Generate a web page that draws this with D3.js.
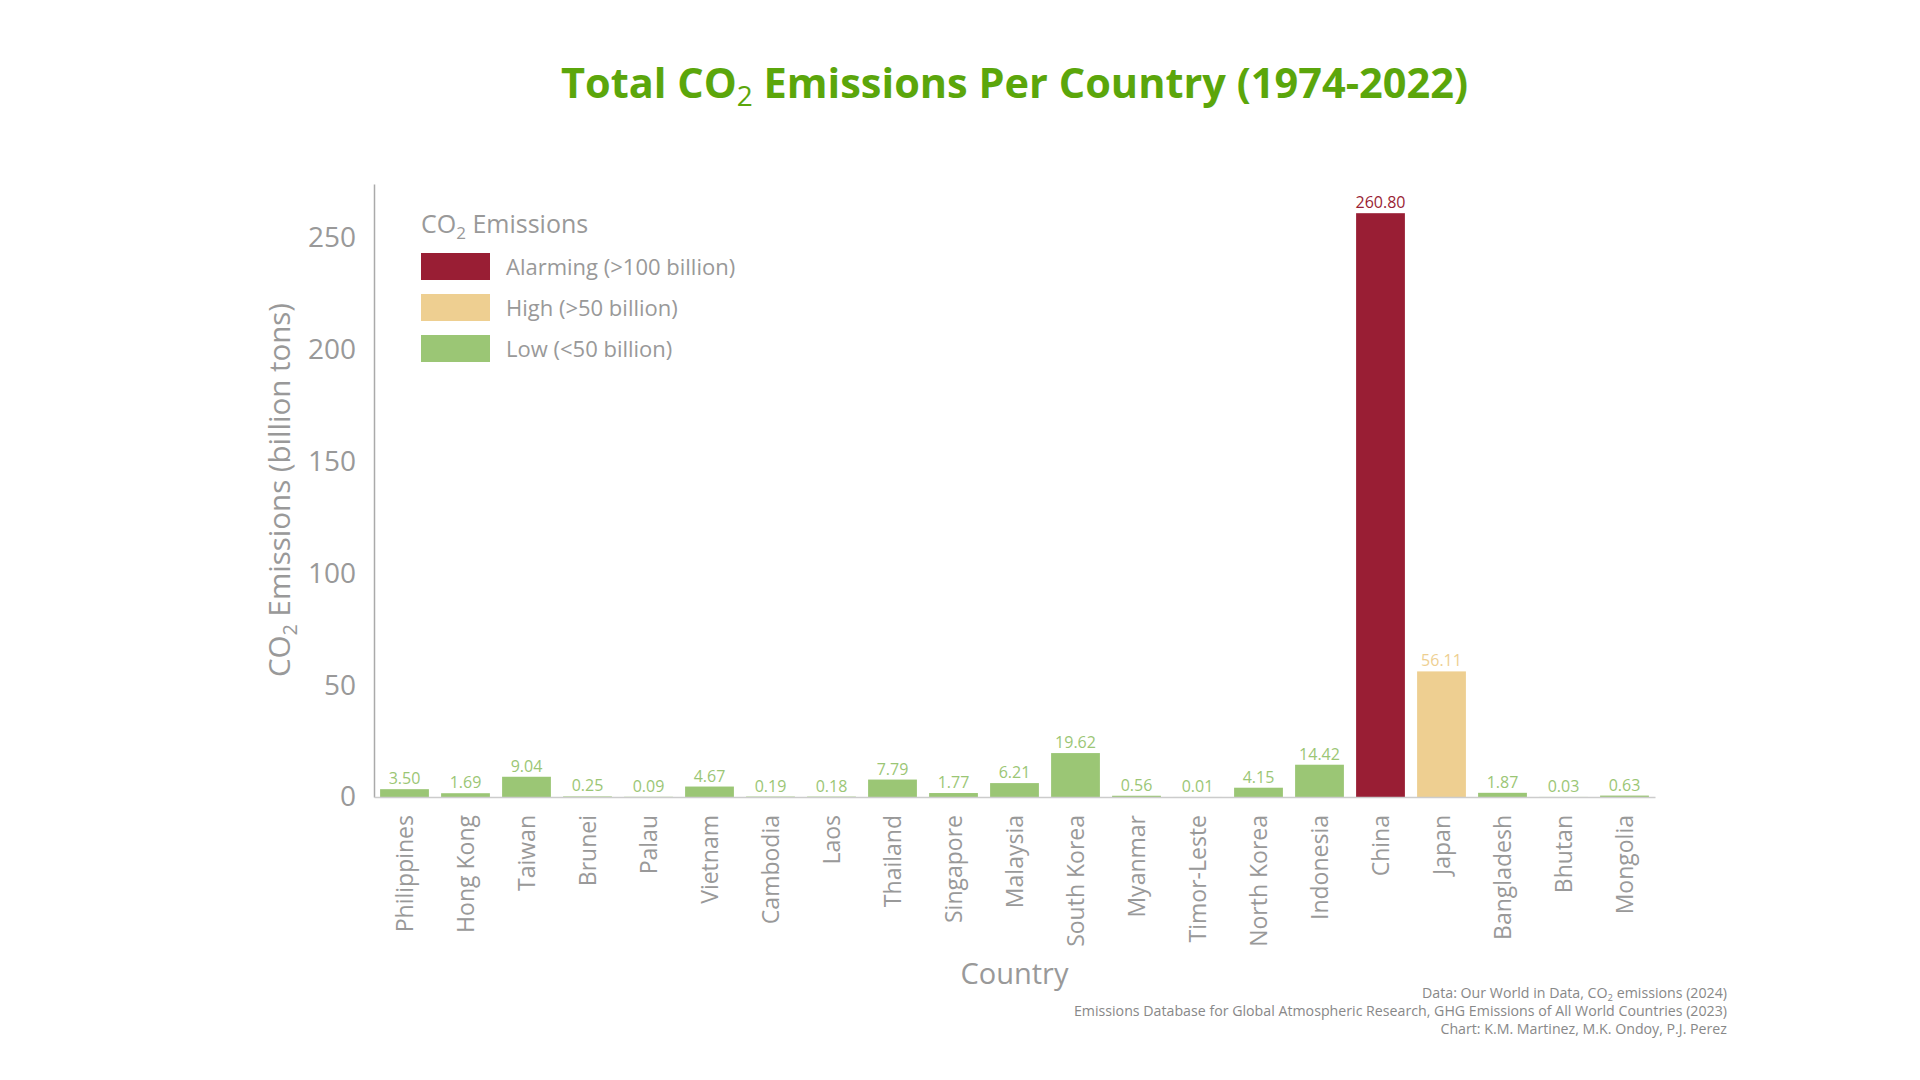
<!DOCTYPE html>
<html>
<head>
<meta charset="utf-8">
<script src="https://cdn.jsdelivr.net/npm/d3@7"></script>
<style>
  html, body { margin: 0; padding: 0; background: #ffffff; }
  svg { display: block; }
  text { font-family: "Open Sans", "Noto Sans", sans-serif; }
</style>
</head>
<body>
<svg id="chart" width="1920" height="1080"></svg>
<script>
const countries = ["Philippines","Hong Kong","Taiwan","Brunei","Palau","Vietnam","Cambodia","Laos","Thailand","Singapore","Malaysia","South Korea","Myanmar","Timor-Leste","North Korea","Indonesia","China","Japan","Bangladesh","Bhutan","Mongolia"];
const emissions = [3.50,1.69,9.04,0.25,0.09,4.67,0.19,0.18,7.79,1.77,6.21,19.62,0.56,0.01,4.15,14.42,260.80,56.11,1.87,0.03,0.63];
const yTicks = [0,50,100,150,200,250];
const categoryNames = ["Alarming (>100 billion)","High (>50 billion)","Low (<50 billion)"];
const categoryColors = ["#991e34","#eecf91","#9bc675"];
const sources = [
  ["Data: Our World in Data, CO", "2", " emissions (2024)"],
  ["Emissions Database for Global Atmospheric Research, GHG Emissions of All World Countries (2023)"],
  ["Chart: K.M. Martinez, M.K. Ondoy, P.J. Perez"]
];

const data = countries.map((c, i) => ({country: c, value: emissions[i]}));
const colorOf = v => v > 100 ? categoryColors[0] : (v > 50 ? categoryColors[1] : categoryColors[2]);

const svg = d3.select("#chart");
const margin = {left: 374, right: 1920 - 1655, top: 184, bottom: 1080 - 797};
const W = 1920 - margin.left - margin.right;
const H = 1080 - margin.top - margin.bottom;

const x = d3.scaleBand().domain(countries).range([0, W]).paddingInner(0.2).paddingOuter(0.1);
const y = d3.scaleLinear().domain([0, d3.max(emissions) * 1.05]).range([H, 0]);

const g = svg.append("g").attr("transform", `translate(${margin.left},${margin.top})`);

// Bars
g.selectAll("rect.bar").data(data).join("rect")
  .attr("class", "bar")
  .attr("x", d => x(d.country))
  .attr("y", d => y(d.value))
  .attr("width", x.bandwidth())
  .attr("height", d => H - y(d.value))
  .attr("fill", d => colorOf(d.value));

// Value labels
g.selectAll("text.val").data(data).join("text")
  .attr("class", "val")
  .attr("x", d => x(d.country) + x.bandwidth() / 2)
  .attr("y", d => y(d.value) - 5)
  .attr("text-anchor", "middle")
  .attr("font-size", 16)
  .attr("fill", d => colorOf(d.value))
  .text(d => d.value.toFixed(2));

// Y axis
const yAxis = g.append("g").call(d3.axisLeft(y).tickValues(yTicks).tickSize(0).tickPadding(18));
yAxis.select(".domain").attr("stroke", "#aaaaaa").attr("stroke-width", 1.5);
yAxis.selectAll("text").attr("font-size", 28).attr("fill", "#999999");

// X axis
const xAxis = g.append("g").attr("transform", `translate(0,${H})`).call(d3.axisBottom(x).tickSize(0).tickPadding(0));
xAxis.select(".domain").attr("stroke", "#cccccc").attr("stroke-width", 1.5);
xAxis.selectAll("text")
  .attr("font-size", 23)
  .attr("fill", "#999999")
  .attr("text-anchor", "end")
  .attr("dy", "0.35em")
  .attr("transform", "translate(0,18) rotate(-90)")
  .attr("x", 0).attr("y", 0);

// Y axis title
const yt = svg.append("text")
  .attr("transform", `translate(${290},${490}) rotate(-90)`)
  .attr("text-anchor", "middle")
  .attr("font-size", 29.5)
  .attr("fill", "#999999");
yt.append("tspan").text("CO");
yt.append("tspan").attr("font-size", 20).attr("dy", 7).text("2");
yt.append("tspan").attr("dy", -7).text(" Emissions (billion tons)");

// X axis title
svg.append("text")
  .attr("x", margin.left + W / 2)
  .attr("y", 984)
  .attr("text-anchor", "middle")
  .attr("font-size", 29)
  .attr("fill", "#999999")
  .text("Country");

// Title
const tt = svg.append("text")
  .attr("x", margin.left + W / 2)
  .attr("y", 98)
  .attr("text-anchor", "middle")
  .attr("font-size", 41.5)
  .attr("font-weight", 700)
  .attr("fill", "#5ba60b");
tt.append("tspan").text("Total CO");
tt.append("tspan").attr("font-size", 28).attr("font-weight", 400).attr("dy", 8).text("2");
tt.append("tspan").attr("dy", -8).text(" Emissions Per Country (1974-2022)");

// Legend
const lg = svg.append("g").attr("transform", "translate(421,233)");
const lt = lg.append("text").attr("x", 0).attr("y", 0).attr("font-size", 25).attr("fill", "#999999");
lt.append("tspan").text("CO");
lt.append("tspan").attr("font-size", 17).attr("dy", 6).text("2");
lt.append("tspan").attr("dy", -6).text(" Emissions");
const items = lg.selectAll("g.item").data(categoryNames).join("g")
  .attr("class", "item")
  .attr("transform", (d, i) => `translate(0,${20 + i * 41})`);
items.append("rect").attr("width", 69).attr("height", 27).attr("fill", (d, i) => categoryColors[i]);
items.append("text").attr("x", 85).attr("y", 14).attr("dy", "0.35em")
  .attr("font-size", 22).attr("fill", "#999999").text(d => d);

// Sources
const src = svg.append("g");
sources.forEach((parts, i) => {
  const t = src.append("text").attr("x", 1727).attr("y", 998 + i * 18)
    .attr("text-anchor", "end").attr("font-size", 14.2).attr("fill", "#888888");
  parts.forEach((p, j) => {
    if (parts.length === 3 && j === 1) t.append("tspan").attr("font-size", 9.5).attr("dy", 3).text(p);
    else if (parts.length === 3 && j === 2) t.append("tspan").attr("dy", -3).text(p);
    else t.append("tspan").text(p);
  });
});
</script>
</body>
</html>
